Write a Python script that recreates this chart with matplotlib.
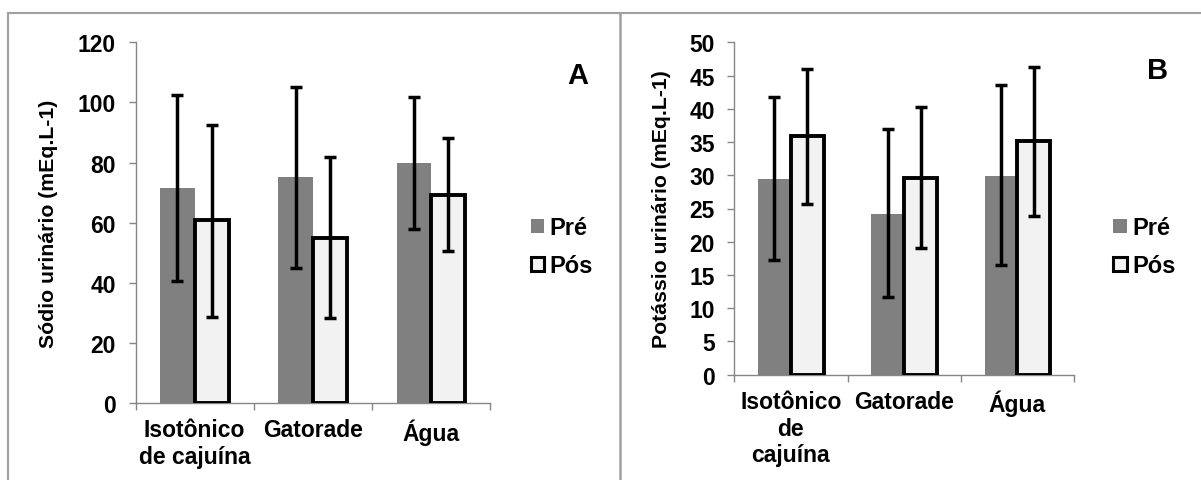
import numpy as np
import matplotlib.pyplot as plt
from matplotlib.patches import Patch
from matplotlib.lines import Line2D

plt.rcParams['font.family'] = ['Liberation Sans', 'DejaVu Sans']
plt.rcParams['font.weight'] = 'bold'

# dados
grupos = ["Isotônico", "Gatorade", "Água"]
rotulos_a = ["Isotônico\nde cajuína", "Gatorade", "Água"]
rotulos_b = ["Isotônico\nde\ncajuína", "Gatorade", "Água"]

# A - sodio urinario
sodio_pre = [71.5, 75.1, 79.7]
sodio_pre_min = [40.7, 45.0, 58.0]
sodio_pre_max = [102.6, 105.2, 101.7]
sodio_pos = [60.8, 55.0, 69.3]
sodio_pos_min = [28.6, 28.2, 50.6]
sodio_pos_max = [92.6, 81.8, 88.1]

# B - potassio urinario
potassio_pre = [29.4, 24.2, 29.9]
potassio_pre_min = [17.3, 11.7, 16.5]
potassio_pre_max = [41.7, 37.0, 43.6]
potassio_pos = [35.9, 29.6, 35.1]
potassio_pos_min = [25.7, 19.0, 23.9]
potassio_pos_max = [46.0, 40.3, 46.3]

W, H = 1201, 481
fig = plt.figure(figsize=(W / 100, H / 100), dpi=100)

cinza = "#808080"
claro = "#f2f2f2"
eixo = "#868686"


def px_box(x0, x1, ytop, ybot):
    return [x0 / W, 1 - ybot / H, (x1 - x0) / W, (ybot - ytop) / H]


def painel(ax, pre, pre_min, pre_max, pos, pos_min, pos_max, ymax, passo, rotulos, ylabel, labx):
    x = np.arange(len(pre))
    w = 0.29
    erro_pre = [np.array(pre) - np.array(pre_min), np.array(pre_max) - np.array(pre)]
    erro_pos = [np.array(pos) - np.array(pos_min), np.array(pos_max) - np.array(pos)]
    ax.bar(x - w / 2, pre, w, color=cinza, edgecolor="none", zorder=2)
    ax.bar(x + w / 2, pos, w, color=claro, edgecolor="black", linewidth=2.8, zorder=3)
    ek = dict(fmt="none", ecolor="black", elinewidth=2.5, capsize=4.2, capthick=2.5, zorder=4)
    ax.errorbar(x - w / 2, pre, yerr=erro_pre, **ek)
    ax.errorbar(x + w / 2, pos, yerr=erro_pos, **ek)

    ax.set_xlim(-0.5, len(pre) - 0.5)
    ax.set_ylim(0, ymax)
    ax.set_yticks(np.arange(0, ymax + 1, passo))
    ax.set_xticks(np.arange(-0.5, len(pre), 1.0))
    ax.set_xticklabels([])
    ax.set_xticks(x, minor=True)
    ax.set_xticklabels(rotulos, minor=True, fontsize=16.5, fontweight="bold", linespacing=1.2)
    ax.tick_params(axis="x", which="minor", length=0, pad=11)
    ax.tick_params(axis="x", which="major", length=5, width=1, color=eixo, direction="out")
    ax.tick_params(axis="y", length=5, width=1, color=eixo, direction="out", pad=9, labelsize=16.5)
    for lab in ax.get_yticklabels():
        lab.set_fontweight("bold")
    for s in ["top", "right"]:
        ax.spines[s].set_visible(False)
    for s in ["left", "bottom"]:
        ax.spines[s].set_color(eixo)
        ax.spines[s].set_linewidth(1)
    ax.set_ylabel(ylabel, fontsize=15.3, fontweight="bold")
    ax.yaxis.set_label_coords(labx, 0.5)


ax1 = fig.add_axes(px_box(135.5, 489.8, 43.3, 404))
painel(ax1, sodio_pre, sodio_pre_min, sodio_pre_max, sodio_pos, sodio_pos_min, sodio_pos_max,
       120, 20, rotulos_a, "Sódio urinário (mEq.L-1)", -0.22)

ax2 = fig.add_axes(px_box(734.2, 1074.1, 43.3, 375.7))
painel(ax2, potassio_pre, potassio_pre_min, potassio_pre_max, potassio_pos, potassio_pos_min,
       potassio_pos_max, 50, 5, rotulos_b, "Potássio urinário (mEq.L-1)", -0.186)

handles = [Patch(facecolor=cinza, edgecolor="none", label="Pré"),
           Patch(facecolor=claro, edgecolor="black", linewidth=2.2, label="Pós")]
for xl, yl in [(530.7, 217.5), (1113, 217.5)]:
    fig.legend(handles=handles, loc="upper left", bbox_to_anchor=(xl / W, 1 - yl / H),
               bbox_transform=fig.transFigure, frameon=False, borderpad=0, borderaxespad=0,
               handlelength=0.58, handleheight=0.55, handletextpad=0.22, labelspacing=0.63,
               prop={"size": 17, "weight": "bold"})

fig.text(578 / W, 1 - 76 / H, "A", fontsize=21, fontweight="bold", ha="center", va="center")
fig.text(1158 / W, 1 - 71 / H, "B", fontsize=21, fontweight="bold", ha="center", va="center")

# moldura cinza
moldura = "#a0a0a0"
fig.add_artist(Line2D([8 / W, 1], [1 - 13.5 / H, 1 - 13.5 / H], color=moldura, lw=1.5))
fig.add_artist(Line2D([8 / W, 8 / W], [0, 1 - 13.5 / H], color=moldura, lw=1.5))
fig.add_artist(Line2D([620 / W, 620 / W], [0, 1 - 13.5 / H], color=moldura, lw=1.8))

fig.savefig("out.png", dpi=100)
